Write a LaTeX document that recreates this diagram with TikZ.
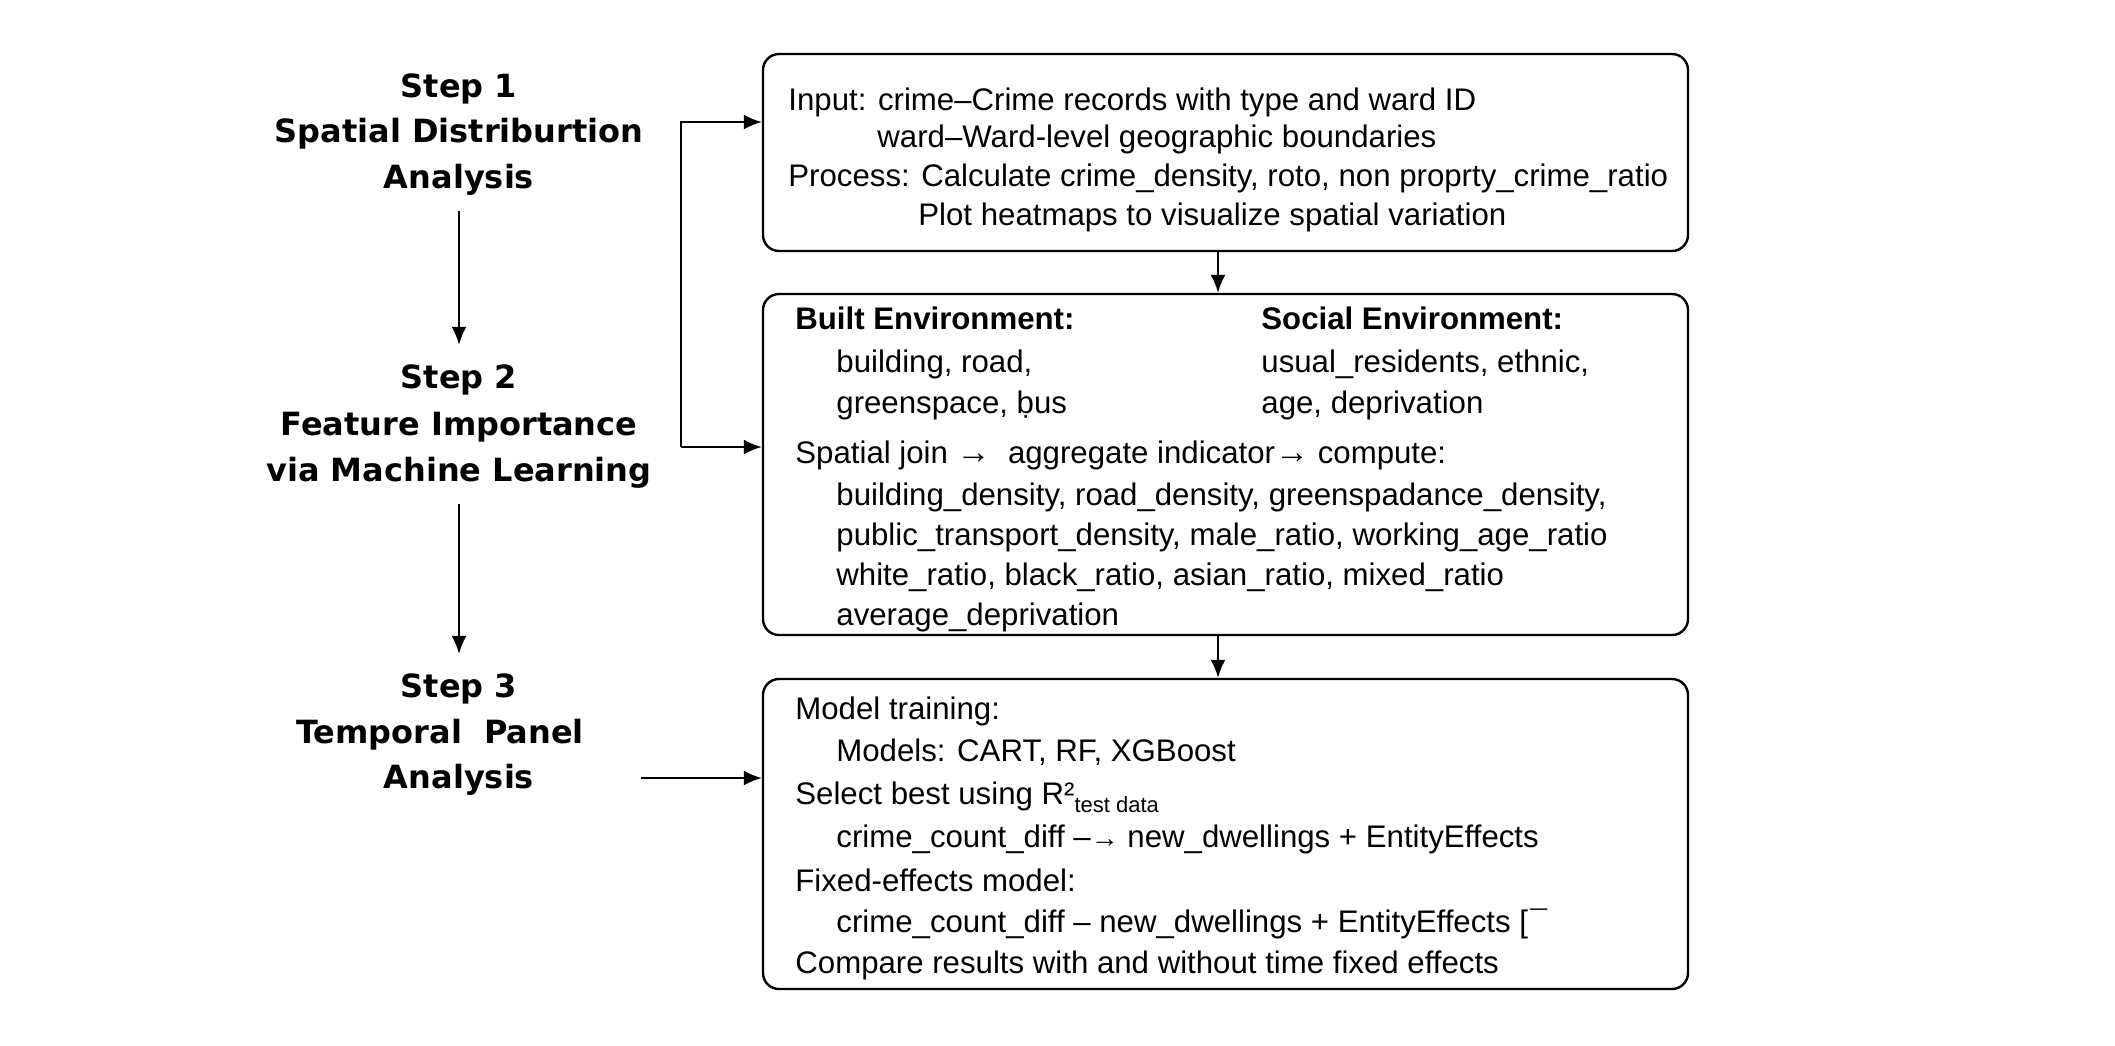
\documentclass[tikz,border=0pt]{standalone}
\usepackage{fontspec}
\setmainfont{Liberation Sans}
\newfontfamily\stepfont{DejaVu Sans}
\usetikzlibrary{arrows.meta}
\newcommand\smallarr{{\fontsize{17}{17}\selectfont →}}
\newcommand\tinyarr{{\fontsize{14}{14}\selectfont →}}
\begin{document}
\begin{tikzpicture}[x=0.5pt,y=-0.5pt,
  box/.style={draw, line width=1.2pt, rounded corners=8pt, inner sep=0pt},
  txt/.style={anchor=base west, inner sep=0pt, font=\fontsize{15.6}{19}\selectfont},
  btxt/.style={txt, font=\fontsize{15.6}{19}\selectfont\bfseries},
  stepline/.style={anchor=base, inner sep=0pt, font=\fontsize{16}{20}\selectfont\stepfont\bfseries},
  arr/.style={line width=1pt, -{Latex[length=9pt,width=7.5pt]}}]
\useasboundingbox[fill=white] (0,0) rectangle (2115,1045);

% boxes
\node[box, minimum width=462.5pt, minimum height=98.5pt] (b1) at (1225.5,152.5) {};
\node[box, minimum width=462.5pt, minimum height=170.5pt] (b2) at (1225.5,464.5) {};
\node[box, minimum width=462.5pt, minimum height=155pt] (b3) at (1225.5,834) {};

% box 1 text
\node[txt] (t1a) at (788,110) {Input: crime–Crime records with type and ward ID};
\node[txt] (t1b) at (877,147) {ward–Ward-level geographic boundaries};
\node[txt] (t1c) at (788,186) {Process: Calculate crime\_density, roto, non proprty\_crime\_ratio};
\node[txt] (t1d) at (918,225) {Plot heatmaps to visualize spatial variation};

% box 2 text
\node[btxt] (t2a) at (795,329) {Built Environment:};
\node[btxt] (t2b) at (1261,329) {Social Environment:};
\node[txt] (t2c) at (836,372) {building, road,};
\node[txt] (t2d) at (1261,372) {usual\_residents, ethnic,};
\node[txt] (t2e) at (836,413) {greenspace, \d{b}us};
\node[txt] (t2f) at (1261,413) {age, deprivation};
\node[txt] (t2g) at (795,463) {Spatial join \smallarr\ \ aggregate indicator\smallarr\ compute:};
\node[txt] (t2h) at (836,505) {building\_density, road\_density, greenspadance\_density,};
\node[txt] (t2i) at (836,545) {public\_transport\_density, male\_ratio, working\_age\_ratio};
\node[txt] (t2j) at (836,585) {white\_ratio, black\_ratio, asian\_ratio, mixed\_ratio};
\node[txt] (t2k) at (836,625) {average\_deprivation};

% box 3 text
\node[txt] (t3a) at (795,719) {Model training:};
\node[txt] (t3b) at (836,761) {Models: CART, RF, XGBoost};
\node[txt] (t3c) at (795,804) {Select best using R²\raisebox{-4pt}{\fontsize{11}{11}\selectfont test data}};
\node[txt] (t3d) at (836,847) {crime\_count\_diff –\tinyarr\ new\_dwellings + EntityEffects};
\node[txt] (t3e) at (795,891) {Fixed-effects model:};
\node[txt] (t3f) at (836,932) {crime\_count\_diff – new\_dwellings + EntityEffects {[}\kern1pt¯};
\node[txt] (t3g) at (795,973) {Compare results with and without time fixed effects};

% steps
\node[stepline] (s1a) at (459,97) {Step 1};
\node[stepline] (s1b) at (459,142) {Spatial Distriburtion};
\node[stepline] (s1c) at (459,188) {Analysis};
\node[stepline] (s2a) at (459,388) {Step 2};
\node[stepline] (s2b) at (459,435) {Feature Importance};
\node[stepline] (s2c) at (459,481) {via Machine Learning};
\node[stepline] (s3a) at (459,697) {Step 3};
\node[stepline] (s3b) at (440,743) {Temporal\ \ Panel};
\node[stepline] (s3c) at (459,788) {Analysis};

% connectors
\draw[arr, shorten <=8pt, shorten >=9.5pt] (s1c.south) -- (s2a.north);
\draw[arr, shorten <=8pt, shorten >=9.5pt] (s2c.south) -- (s3a.north);

\coordinate (ax) at (1218,0);
\draw[arr] (b1.south -| ax) -- (b2.north -| ax);
\draw[arr] (b2.south -| ax) -- (b3.north -| ax);

\coordinate (k1) at (681,122);
\coordinate (k2) at (681,447);
\coordinate (k3) at (641,778);
\draw[arr] (k2) -- (k1) -- (k1 -| b1.west);
\draw[arr] (k2) -- (k2 -| b2.west);
\draw[arr] (k3) -- (k3 -| b3.west);
\end{tikzpicture}
\end{document}
